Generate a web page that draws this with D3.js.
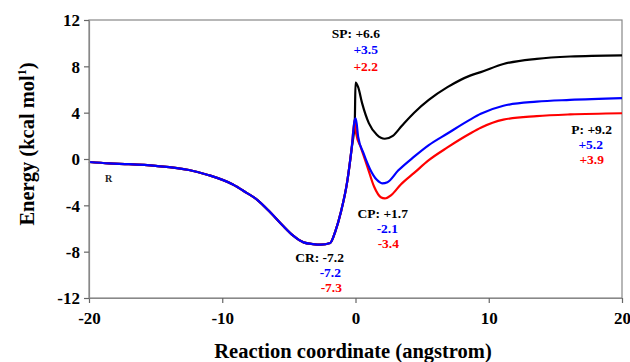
<!DOCTYPE html>
<html><head><meta charset="utf-8">
<script src="https://cdn.jsdelivr.net/npm/d3@7"></script>
<style>body{margin:0;background:#fff}svg{display:block}text{font-family:"Liberation Serif","DejaVu Serif",serif;font-weight:bold}</style>
</head><body><svg id="c" width="630" height="362"></svg>
<script>
// Shared reactant -> TS approach (all three curves coincide)
const commonX = [-20, -18.5, -17, -15, -12.5, -11, -9.2, -8.2, -7.4, -6.4, -5.5, -4.7, -3.9, -3.2, -2.6, -1.9, -1.5, -1.1, -0.6, -0.3, -0.05];
const commonY = [-0.26, -0.38, -0.45, -0.6, -0.95, -1.4, -2.2, -2.9, -3.5, -4.6, -5.7, -6.6, -7.2, -7.35, -7.4, -7.25, -6.2, -4.6, -1.8, 0.8, 3.4];
// Branches after the saddle point
const blackX = [0.0, 0.2, 0.5, 1.0, 1.6, 2.2, 2.8, 3.5, 4.4, 5.5, 6.9, 8.6, 9.4, 11.1, 13.6, 16.1, 20];
const blackY = [6.6, 6.2, 4.8, 3.1, 2.1, 1.75, 2.0, 2.9, 4.0, 5.1, 6.2, 7.2, 7.5, 8.2, 8.65, 8.85, 8.95];
const blueX = [0.02, 0.2, 0.6, 1.1, 1.6, 2.0, 2.4, 3.2, 4.4, 5.5, 6.9, 8.6, 9.4, 11.1, 13.6, 16.1, 20];
const blueY = [3.5, 1.9, 0.5, -0.9, -1.8, -2.1, -2.0, -1.0, 0.2, 1.2, 2.2, 3.4, 3.9, 4.6, 4.95, 5.1, 5.25];
const redX = [0.05, 0.4, 0.9, 1.4, 1.9, 2.2, 2.7, 3.4, 4.4, 5.5, 6.9, 8.6, 9.4, 11.1, 13.6, 16.1, 20];
const redY = [2.2, 1.0, -0.7, -2.4, -3.3, -3.4, -3.1, -2.2, -1.2, -0.1, 1.0, 2.2, 2.7, 3.4, 3.7, 3.85, 3.95];
const xTicks = [-20, -10, 0, 10, 20];
const yTicks = [-12, -8, -4, 0, 4, 8, 12];
const labels = [
  {t: "SP: +6.6", c: "#000", x: 380, y: 38},
  {t: "+3.5", c: "#0000ff", x: 378, y: 54},
  {t: "+2.2", c: "#ff0000", x: 378, y: 71},
  {t: "CP: +1.7", c: "#000", x: 408, y: 218},
  {t: "-2.1", c: "#0000ff", x: 398, y: 233},
  {t: "-3.4", c: "#ff0000", x: 399, y: 248},
  {t: "CR: -7.2", c: "#000", x: 344, y: 262},
  {t: "-7.2", c: "#0000ff", x: 341, y: 277},
  {t: "-7.3", c: "#ff0000", x: 342, y: 292},
  {t: "P: +9.2", c: "#000", x: 612, y: 134},
  {t: "+5.2", c: "#0000ff", x: 603, y: 149},
  {t: "+3.9", c: "#ff0000", x: 604, y: 164}
];

const svg = d3.select("#c");
const L = 89, R = 622, T = 20, B = 298;
const x = d3.scaleLinear().domain([-20, 20]).range([L, R]);
const y = d3.scaleLinear().domain([-12, 12]).range([B, T]);

const zip = (xs, ys) => xs.map((v, i) => [v, ys[i]]);
const common = zip(commonX, commonY);
const series = [
  {pts: common.concat(zip(blackX, blackY)), c: "#000"},
  {pts: common.concat(zip(redX, redY)), c: "#ff0000"},
  {pts: common.concat(zip(blueX, blueY)), c: "#0000ff"}
];

// frame
svg.append("rect").attr("x", L).attr("y", T).attr("width", R - L).attr("height", B - T)
  .attr("fill", "none").attr("stroke", "#888").attr("stroke-width", 1.2);

const line = d3.line().x(d => x(d[0])).y(d => y(d[1])).curve(d3.curveMonotoneX);
series.forEach(s => {
  svg.append("path").attr("d", line(s.pts)).attr("fill", "none")
    .attr("stroke", s.c).attr("stroke-width", 2.2).attr("stroke-linejoin", "round");
});

const fmt = d => String(d);
const xa = svg.append("g").attr("transform", `translate(0,${B})`)
  .call(d3.axisBottom(x).tickValues(xTicks).tickSize(5).tickSizeOuter(0).tickFormat(fmt));
const ya = svg.append("g").attr("transform", `translate(${L},0)`)
  .call(d3.axisLeft(y).tickValues(yTicks).tickSize(5).tickSizeOuter(0).tickFormat(fmt));
[xa, ya].forEach(g => {
  g.select(".domain").attr("stroke", "#888").attr("stroke-width", 1.2);
  g.selectAll(".tick line").attr("stroke", "#666").attr("stroke-width", 1.2);
  g.selectAll("text").attr("font-size", 17).attr("fill", "#000")
    .style("font-family", '"Liberation Serif", serif').style("font-weight", "bold");
});
xa.selectAll("text").attr("dy", "1.05em");
ya.selectAll("text").attr("x", -9).attr("dy", "0.34em");

labels.forEach(l => {
  svg.append("text").attr("x", l.x).attr("y", l.y).attr("text-anchor", "end")
    .attr("font-size", 13.5).attr("fill", l.c).text(l.t);
});
svg.append("text").attr("x", 105).attr("y", 182).attr("font-size", 10).attr("fill", "#222").text("R");

svg.append("text").attr("x", 353).attr("y", 358).attr("text-anchor", "middle")
  .attr("font-size", 20.5).text("Reaction coordinate (angstrom)");
const yt = svg.append("text").attr("transform", "translate(34,144) rotate(-90)")
  .attr("text-anchor", "middle").attr("font-size", 20.5);
yt.append("tspan").text("Energy (kcal mol");
yt.append("tspan").attr("font-size", 12).attr("dy", -8).text("1");
yt.append("tspan").attr("dy", 8).text(")");
</script></body></html>
